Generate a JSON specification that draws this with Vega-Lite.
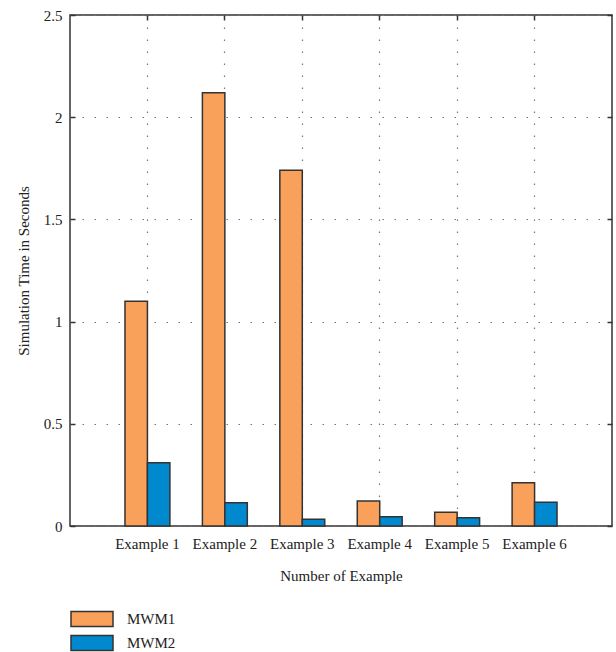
{
  "$schema": "https://vega.github.io/schema/vega-lite/v6.json",
  "width": 542,
  "height": 511,
  "autosize": {"type": "none"},
  "padding": {"left": 70, "top": 15, "right": 4, "bottom": 126},
  "background": "white",
  "config": {
    "view": {"stroke": "#333333", "strokeWidth": 1.5},
    "font": "Liberation Serif",
    "axis": {"labelFont": "Liberation Serif, DejaVu Serif, serif", "titleFont": "Liberation Serif, DejaVu Serif, serif", "labelColor": "#222222", "titleColor": "#222222", "titleFontWeight": "normal", "labelFontSize": 15, "titleFontSize": 15}
  },
  "data": {
    "values": [
      {"example": "Example 1", "series": "MWM1", "time": 1.10},
      {"example": "Example 1", "series": "MWM2", "time": 0.31},
      {"example": "Example 2", "series": "MWM1", "time": 2.12},
      {"example": "Example 2", "series": "MWM2", "time": 0.114},
      {"example": "Example 3", "series": "MWM1", "time": 1.74},
      {"example": "Example 3", "series": "MWM2", "time": 0.033},
      {"example": "Example 4", "series": "MWM1", "time": 0.122},
      {"example": "Example 4", "series": "MWM2", "time": 0.045},
      {"example": "Example 5", "series": "MWM1", "time": 0.067},
      {"example": "Example 5", "series": "MWM2", "time": 0.04},
      {"example": "Example 6", "series": "MWM1", "time": 0.212},
      {"example": "Example 6", "series": "MWM2", "time": 0.116}
    ]
  },
  "resolve": {"axis": {"x": "independent", "y": "independent"}},
  "layer": [
    {
      "mark": {"type": "bar", "stroke": "#333333", "strokeWidth": 1.5},
      "encoding": {
        "x": {
          "field": "example", "type": "nominal",
          "scale": {"paddingInner": 0.42, "paddingOuter": 0.71},
          "axis": {
            "orient": "bottom",
            "title": "Number of Example", "labelAngle": 0, "ticks": false, "domain": false,
            "labelPadding": 10, "titlePadding": 17,
            "grid": true, "bandPosition": 0.5, "gridColor": "#777777", "gridDash": [1.5, 10.5], "gridWidth": 1.2
          }
        },
        "xOffset": {"field": "series", "type": "nominal", "scale": {"paddingInner": 0, "paddingOuter": 0}},
        "y": {
          "field": "time", "type": "quantitative",
          "scale": {"domain": [0, 2.5], "nice": false},
          "axis": {
            "orient": "left",
            "title": "Simulation Time in Seconds", "values": [0, 0.5, 1, 1.5, 2, 2.5], "format": "~g",
            "tickSize": -5, "tickColor": "#333333", "tickWidth": 1.5, "domain": false,
            "labelPadding": 13, "titlePadding": 12,
            "grid": true, "gridColor": "#777777", "gridDash": [1.5, 10.5], "gridWidth": 1.2
          }
        },
        "color": {
          "field": "series", "type": "nominal",
          "scale": {"range": ["#F9A15A", "#0089CF"]},
          "legend": {
            "title": null, "orient": "none", "legendX": 13.5, "legendY": 595.5,
            "padding": 0, "symbolType": "M-2.8,-1L2.8,-1L2.8,1L-2.8,1Z", "symbolSize": 225,
            "symbolStrokeColor": "#333333", "symbolStrokeWidth": 1.5, "symbolOpacity": 1,
            "labelFont": "Liberation Serif, DejaVu Serif, serif", "labelFontSize": 15, "labelColor": "#222222", "labelOffset": 26.5,
            "rowPadding": 3
          }
        }
      }
    },
    {
      "mark": {"type": "bar", "opacity": 0},
      "encoding": {
        "x": {
          "field": "example", "type": "nominal",
          "axis": {"orient": "top", "title": null, "labels": false, "domain": false, "grid": false, "bandPosition": 0.5, "tickSize": -5, "tickColor": "#333333", "tickWidth": 1.5}
        },
        "y": {
          "field": "time", "type": "quantitative",
          "axis": {"orient": "right", "title": null, "labels": false, "domain": false, "grid": false, "values": [0, 0.5, 1, 1.5, 2, 2.5], "tickSize": -5, "tickColor": "#333333", "tickWidth": 1.5}
        }
      }
    }
  ]
}
